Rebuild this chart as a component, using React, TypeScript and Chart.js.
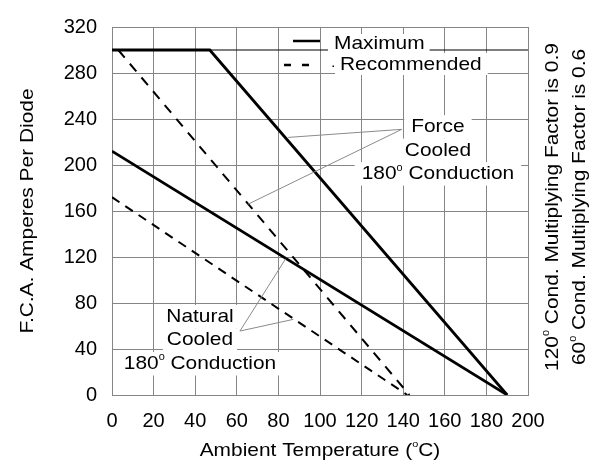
import React, { useEffect, useRef } from 'react';
import { Chart, registerables } from 'chart.js';

Chart.register(...registerables);

const FONT = '"Liberation Sans", Arial, Helvetica, sans-serif';

// ---- data (°C, Amperes) ----
const forceMaximum = [{ x: 0, y: 300 }, { x: 47, y: 300 }, { x: 190, y: 0 }];
const naturalMaximum = [{ x: 0, y: 212 }, { x: 190, y: 0 }];
const forceRecommended = [{ x: 3, y: 300 }, { x: 143, y: 0 }];
const naturalRecommended = [{ x: 0, y: 172 }, { x: 142, y: 0 }];
const ratingLimit = [{ x: 0, y: 300 }, { x: 200, y: 300 }];

const forcePointerA = [{ x: 139.3, y: 231 }, { x: 84.7, y: 224 }];
const forcePointerB = [{ x: 139.3, y: 231 }, { x: 65.5, y: 166 }];
const naturalPointerA = [{ x: 61.5, y: 55.6 }, { x: 83.5, y: 118.5 }];
const naturalPointerB = [{ x: 61.5, y: 55.6 }, { x: 87.2, y: 65.8 }];

const xMin = 0, xMax = 200, xStep = 20;
const yMin = 0, yMax = 320, yStep = 20, yLabelStep = 40;

const legendLabels = ['Maximum', 'Recommended'];

type Part = { t: string; sup?: boolean };

const forceLabelAnchor = { x: 156.7, y: 228.6 };
const naturalLabelAnchor = { x: 42.3, y: 63.5 };
const forceLabelLines: Part[][] = [[{ t: 'Force' }], [{ t: 'Cooled' }], [{ t: '180' }, { t: '0', sup: true }, { t: ' Conduction' }]];
const naturalLabelLines: Part[][] = [[{ t: 'Natural' }], [{ t: 'Cooled' }], [{ t: '180' }, { t: '0', sup: true }, { t: ' Conduction' }]];

const xTitle: Part[] = [{ t: 'Ambient Temperature (' }, { t: 'o', sup: true }, { t: 'C)' }];
const yTitle: Part[] = [{ t: 'F.C.A. Amperes Per Diode' }];
const sideNote1: Part[] = [{ t: '120' }, { t: '0', sup: true }, { t: ' Cond. Multiplying Factor is 0.9' }];
const sideNote2: Part[] = [{ t: '60' }, { t: '0', sup: true }, { t: ' Cond. Multiplying Factor is 0.6' }];

type Opts = {
  size?: number;
  sx?: number;
  align?: 'left' | 'center';
  rotate?: boolean;
  bg?: { padL: number; padR: number; top: number; bottom: number };
};

function drawText(ctx: CanvasRenderingContext2D, parts: Part[], x: number, y: number, o: Opts = {}) {
  const size = o.size ?? 19;
  const sx = o.sx ?? 1.1;
  const supSize = size * 0.52;
  ctx.save();
  ctx.translate(x, y);
  if (o.rotate) ctx.rotate(-Math.PI / 2);
  ctx.scale(sx, 1);
  let w = 0;
  for (const p of parts) {
    ctx.font = `${p.sup ? supSize : size}px ${FONT}`;
    w += ctx.measureText(p.t).width;
  }
  let cx = o.align === 'left' ? 0 : -w / 2;
  if (o.bg) {
    ctx.fillStyle = '#ffffff';
    ctx.fillRect(cx - o.bg.padL / sx, -o.bg.top, w + (o.bg.padL + o.bg.padR) / sx, o.bg.top + o.bg.bottom);
  }
  ctx.fillStyle = '#000000';
  ctx.textAlign = 'left';
  ctx.textBaseline = 'alphabetic';
  for (const p of parts) {
    ctx.font = `${p.sup ? supSize : size}px ${FONT}`;
    ctx.fillText(p.t, cx, p.sup ? -size * 0.45 : 0);
    cx += ctx.measureText(p.t).width;
  }
  ctx.restore();
}

const overlayPlugin = {
  id: 'overlay',
  afterDatasetsDraw(chart: any) {
    const ctx: CanvasRenderingContext2D = chart.ctx;
    const xs = chart.scales.x;
    const ys = chart.scales.y;
    const { left, top } = chart.chartArea;

    // annotation labels
    const lh = 23.5;
    const fx = xs.getPixelForValue(forceLabelAnchor.x);
    const fy = ys.getPixelForValue(forceLabelAnchor.y);
    forceLabelLines.forEach((ln, i) =>
      drawText(ctx, ln, fx, fy + i * lh, { bg: { padL: 7, padR: 7, top: 17, bottom: 6.5 } })
    );
    const nx = xs.getPixelForValue(naturalLabelAnchor.x);
    const ny = ys.getPixelForValue(naturalLabelAnchor.y);
    naturalLabelLines.forEach((ln, i) =>
      drawText(ctx, ln, nx, ny + i * lh, { bg: { padL: 4, padR: 4, top: 17, bottom: 6.5 } })
    );

    // legend (top right inside plot)
    const lx = left + 171;
    ctx.save();
    ctx.strokeStyle = '#000';
    ctx.lineWidth = 2.5;
    ctx.beginPath();
    ctx.moveTo(lx + 10, top + 14);
    ctx.lineTo(lx + 37, top + 14);
    ctx.stroke();
    ctx.restore();
    drawText(ctx, [{ t: legendLabels[0] }], lx + 51, top + 22, { align: 'left', bg: { padL: 6, padR: 5, top: 15, bottom: 4 } });

    drawText(ctx, [{ t: legendLabels[1] }], lx + 57, top + 43, { align: 'left', bg: { padL: 5, padR: 6, top: 17, bottom: 5 } });
    ctx.save();
    ctx.strokeStyle = '#000';
    ctx.lineWidth = 2.5;
    ctx.beginPath();
    ctx.moveTo(lx + 1, top + 38);
    ctx.lineTo(lx + 8, top + 38);
    ctx.moveTo(lx + 19, top + 38);
    ctx.lineTo(lx + 26, top + 38);
    ctx.stroke();
    ctx.fillStyle = '#000';
    ctx.fillRect(lx + 49.5, top + 38.5, 1.5, 1.5);
    ctx.restore();
  },
  afterDraw(chart: any) {
    const ctx: CanvasRenderingContext2D = chart.ctx;
    const { left, right, top, bottom } = chart.chartArea;
    const cxm = (left + right) / 2;
    const cym = (top + bottom) / 2;
    drawText(ctx, xTitle, cxm, bottom + 61);
    drawText(ctx, yTitle, 33, cym, { rotate: true });
    drawText(ctx, sideNote1, right + 30, cym - 4, { rotate: true });
    drawText(ctx, sideNote2, right + 57, cym - 4, { rotate: true });
  },
};

export default function App() {
  const ref = useRef<HTMLCanvasElement | null>(null);
  useEffect(() => {
    if (!ref.current) return;
    const thick = { borderColor: '#000', pointRadius: 0, fill: false, tension: 0 };
    const pointer = { borderColor: '#8a8a8a', borderWidth: 1, pointRadius: 0, fill: false };
    const chart = new Chart(ref.current, {
      type: 'line',
      data: {
        datasets: [
          { ...pointer, data: forcePointerA },
          { ...pointer, data: forcePointerB },
          { ...pointer, data: naturalPointerA },
          { ...pointer, data: naturalPointerB },
          { ...thick, data: ratingLimit, borderWidth: 1.2 },
          { ...thick, data: forceRecommended, borderWidth: 2, borderDash: [10, 8] },
          { ...thick, data: naturalRecommended, borderWidth: 2, borderDash: [9, 7] },
          { ...thick, data: naturalMaximum, borderWidth: 2.7 },
          { ...thick, data: forceMaximum, borderWidth: 2.8 },
        ] as any,
      },
      options: {
        animation: false,
        responsive: false,
        maintainAspectRatio: false,
        layout: { padding: { top: 17, right: 72, left: 0, bottom: 0 } },
        plugins: { legend: { display: false }, tooltip: { enabled: false } },
        elements: { point: { radius: 0 }, line: { borderCapStyle: 'butt' } },
        scales: {
          x: {
            type: 'linear',
            min: xMin,
            max: xMax,
            grid: { color: '#858585', lineWidth: 1, drawTicks: false },
            border: { color: '#858585' },
            ticks: { stepSize: xStep, color: '#000', font: { family: FONT, size: 20 }, padding: 14, maxRotation: 0 },
            afterFit: (s: any) => { s.height = 68; },
          },
          y: {
            type: 'linear',
            min: yMin,
            max: yMax,
            grid: { color: '#858585', lineWidth: 1, drawTicks: false },
            border: { color: '#858585' },
            ticks: {
              stepSize: yStep,
              color: '#000',
              font: { family: FONT, size: 20 },
              padding: 15,
              callback: (v: any) => (Number(v) % yLabelStep === 0 ? String(v) : ''),
            },
            afterFit: (s: any) => { s.width = 112; },
          },
        },
      } as any,
      plugins: [overlayPlugin],
    });
    return () => chart.destroy();
  }, []);
  return (
    <div style={{ position: 'absolute', left: 0, top: 0, width: 600, height: 463, background: '#fff' }}>
      <canvas ref={ref} width={600} height={463} />
    </div>
  );
}
